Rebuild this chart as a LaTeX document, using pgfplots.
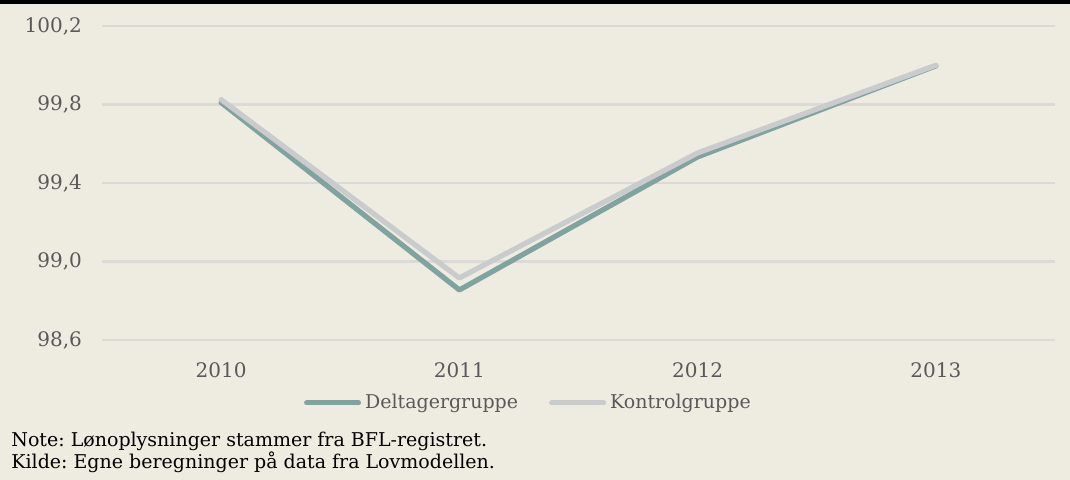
\documentclass[border=0pt]{standalone}
\usepackage{pgfplots}
\pgfplotsset{compat=1.18}
\usepackage{fontspec}
\setmainfont{DejaVu Serif}
\definecolor{bgcol}{HTML}{EEEBE1}
\definecolor{delcol}{HTML}{7FA39E}
\definecolor{kontcol}{HTML}{C9CBCD}
\definecolor{gridcol}{HTML}{DCDAD6}
\definecolor{txtgray}{HTML}{595959}
\begin{document}
\frenchspacing
\begin{tikzpicture}
\fill[bgcol] (0,0) rectangle (535pt,240pt);
\fill[black] (0,238pt) rectangle (535pt,240pt);
\begin{axis}[
  at={(51pt,70pt)}, anchor=south west,
  scale only axis, width=476.5pt, height=157pt,
  xmin=-0.5, xmax=3.5, ymin=98.6, ymax=100.2,
  axis line style={draw=none},
  ymajorgrids, grid style={gridcol, line width=1.2pt},
  major tick length=0pt,
  xtick={0,1,2,3}, xticklabels={2010,2011,2012,2013},
  ytick={98.6,99.0,99.4,99.8,100.2},
  /pgf/number format/.cd, use comma, fixed, fixed zerofill, precision=1, assume math mode=true,
  /pgfplots/.cd,
  tick label style={font=\fontsize{10}{12}\selectfont, text=txtgray},
  yticklabel style={xshift=-6.5pt},
  xticklabel style={yshift=-8pt},
  clip=false,
  legend style={at={(0.4485,-0.2006)}, anchor=center, draw=none, fill=none,
    font=\fontsize{9.5}{11}\selectfont, text=txtgray,
    /tikz/every even column/.append style={column sep=13.5pt}},
  legend columns=2,
  legend image code/.code={\draw[#1, line width=2.5pt, line cap=round] (0pt,0pt) -- (26pt,0pt);},
]
\addplot[delcol, line width=2.6pt, line cap=round, line join=round] coordinates {(0,99.81) (1,98.855) (2,99.533) (3,99.997)};
\addlegendentry{Deltagergruppe}
\addplot[kontcol, line width=2.6pt, line cap=round, line join=round] coordinates {(0,99.825) (1,98.916) (2,99.553) (3,100.0)};
\addlegendentry{Kontrolgruppe}
\end{axis}
\node[anchor=base west, inner sep=0pt, font=\fontsize{9.5}{11}\selectfont] at (5.5pt,16.5pt) {Note: Lønoplysninger stammer fra BFL-registret.};
\node[anchor=base west, inner sep=0pt, font=\fontsize{9.5}{11}\selectfont] at (5.5pt,5.5pt) {Kilde: Egne beregninger på data fra Lovmodellen.};
\pgfresetboundingbox
\path[use as bounding box] (0,0) rectangle (535pt,240pt);
\end{tikzpicture}
\end{document}
